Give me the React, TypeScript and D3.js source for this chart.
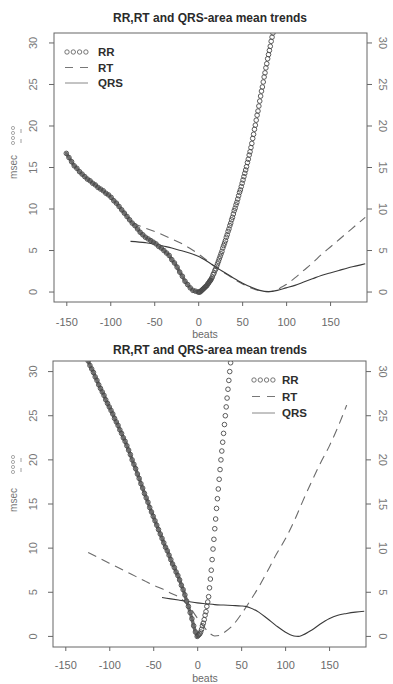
import { useEffect, useRef } from 'react'
import * as d3 from 'd3'

const chartTitle = 'RR,RT and QRS-area mean trends'
const beatTicks = [-150, -100, -50, 0, 50, 100, 150]
const msecTicks = [0, 5, 10, 15, 20, 25, 30]
const legendNames = ['RR', 'RT', 'QRS']
const xDomain: [number, number] = [-164, 192]
const yDomain: [number, number] = [-1.2, 31.2]

// upper panel
const topRRBeats = [...d3.range(-150, 0, 3), ...d3.range(0, 87)]
const topRRValues = [
  16.7, 16.2, 15.7, 15.2, 14.9, 14.5, 14.2, 13.9, 13.6, 13.4,
  13.1, 12.9, 12.6, 12.4, 12.2, 11.9, 11.7, 11.4, 11.0, 10.7,
  10.3, 9.9, 9.5, 9.1, 8.7, 8.3, 8.0, 7.6, 7.2, 6.9,
  6.6, 6.4, 6.2, 6.0, 5.8, 5.5, 5.3, 5.0, 4.7, 4.4,
  3.9, 3.5, 3.0, 2.4, 1.9, 1.3, 0.9, 0.5, 0.2, 0.1,
  0,
  0.0, 0.0, 0.1, 0.2, 0.3, 0.4, 0.5, 0.6, 0.7, 0.8,
  1.0, 1.1, 1.3, 1.4, 1.6, 1.8, 2.1, 2.3, 2.6, 2.8,
  3.1, 3.4, 3.7, 4.0, 4.3, 4.6, 4.9, 5.3, 5.6, 5.9,
  6.2, 6.6, 6.9, 7.3, 7.6, 8.0, 8.3, 8.7, 9.0, 9.4,
  9.8, 10.1, 10.5, 10.8, 11.2, 11.6, 12.0, 12.3, 12.7, 13.1,
  13.5, 13.9, 14.3, 14.7, 15.1, 15.6, 16.0, 16.5, 16.9, 17.4,
  17.9, 18.5, 19.0, 19.6, 20.1, 20.7, 21.3, 21.8, 22.4, 23.0,
  23.6, 24.2, 24.7, 25.3, 25.9, 26.4, 27.0, 27.5, 28.1, 28.6,
  29.1, 29.6, 30.2, 30.7, 31.2, 31.7
]
const topRTBeats = [-75, -60, -45, -30, -20, -10, 0, 10, 20, 30, 40, 50, 60, 70, 80, 90, 95, 100, 110, 120, 130, 140, 150, 160, 170, 180, 190]
const topRTValues = [8.3, 7.7, 7.1, 6.4, 5.9, 5.3, 4.6, 3.8, 3.0, 2.3, 1.6, 1.0, 0.5, 0.15, 0.05, 0.3, 0.6, 0.9, 1.7, 2.6, 3.5, 4.5, 5.4, 6.3, 7.2, 8.1, 9.0]
const topQRSBeats = [-77, -60, -50, -40, -30, -20, -10, 0, 10, 20, 30, 40, 50, 60, 70, 80, 90, 100, 110, 120, 130, 140, 150, 160, 170, 180, 190]
const topQRSValues = [6.1, 5.95, 5.8, 5.55, 5.3, 5.0, 4.7, 4.3, 3.7, 3.0, 2.35, 1.7, 1.1, 0.6, 0.2, 0.05, 0.2, 0.5, 0.8, 1.2, 1.6, 2.0, 2.3, 2.6, 2.9, 3.15, 3.4]

// lower panel
const bottomRRBeats = [...d3.range(-126, 0, 2), ...d3.range(0, 40)]
const bottomRRValues = [
  31.6, 31.2, 30.7, 30.3, 29.9, 29.4, 29.0, 28.5, 28.1, 27.7,
  27.3, 26.8, 26.4, 26.0, 25.6, 25.2, 24.7, 24.3, 23.9, 23.4,
  23.0, 22.5, 22.1, 21.6, 21.1, 20.6, 20.0, 19.5, 19.0, 18.4,
  17.9, 17.3, 16.8, 16.2, 15.7, 15.2, 14.6, 14.1, 13.6, 13.1,
  12.6, 12.1, 11.6, 11.1, 10.6, 10.1, 9.7, 9.2, 8.7, 8.2,
  7.8, 7.3, 6.9, 6.4, 5.8, 5.3, 4.7, 4.0, 3.4, 2.7,
  2.0, 1.2, 0.5,
  0, 0.1, 0.2, 0.3, 0.5, 0.8, 1.2, 1.5, 1.9, 2.4,
  2.8, 3.4, 3.9, 4.5, 5.5, 6.5, 7.5, 8.7, 9.9, 11.0,
  12.2, 13.3, 14.5, 15.6, 16.7, 17.8, 18.9, 20.0, 21.0, 22.0,
  23.0, 24.0, 25.0, 26.0, 27.0, 28.0, 29.0, 30.0, 31.0, 32.0
]
const bottomRTBeats = [-124, -110, -100, -90, -80, -70, -60, -50, -40, -30, -20, -10, 0, 10, 15, 20, 25, 30, 40, 50, 60, 70, 80, 90, 100, 110, 120, 130, 140, 150, 160, 170]
const bottomRTValues = [9.5, 8.8, 8.3, 7.8, 7.3, 6.8, 6.3, 5.8, 5.4, 4.9, 4.4, 3.5, 2.1, 0.8, 0.3, 0.05, 0.1, 0.4, 1.2, 2.5, 4.0, 5.6, 7.4, 9.3, 11.0, 13.0, 15.3, 17.5, 19.6, 21.5, 23.7, 26.2]
const bottomQRSBeats = [-40, -30, -20, -10, 0, 10, 20, 30, 40, 50, 55, 60, 70, 80, 90, 100, 110, 115, 120, 130, 140, 150, 160, 170, 180, 190]
const bottomQRSValues = [4.4, 4.25, 4.1, 3.95, 3.8, 3.7, 3.6, 3.55, 3.5, 3.45, 3.4, 3.25, 2.75, 2.0, 1.2, 0.5, 0.05, 0.0, 0.15, 0.7, 1.4, 2.0, 2.4, 2.6, 2.75, 2.85]

const font = '"Liberation Sans", Arial, sans-serif'

interface Panel {
  l: number; r: number; t: number; b: number
  titleY: number; tickPad: number; xlabOffset: number
  legendX: number; legendTextX: number; legendY: number; legendStep: number
  ylabY: number; ylabSymY: number
  denseUpTo: number
  rr: [number[], number[]]
  rt: [number[], number[]]
  qrs: [number[], number[]]
}

function drawPanel(svg: d3.Selection<SVGSVGElement, unknown, null, undefined>, p: Panel, idx: number) {
  const x = d3.scaleLinear().domain(xDomain).range([p.l, p.r])
  const y = d3.scaleLinear().domain(yDomain).range([p.b, p.t])
  const g = svg.append('g')

  const clipId = `clip-${idx}`
  svg.append('clipPath').attr('id', clipId)
    .append('rect').attr('x', p.l).attr('y', p.t).attr('width', p.r - p.l).attr('height', p.b - p.t)

  g.append('text')
    .attr('x', 210).attr('y', p.titleY)
    .attr('text-anchor', 'middle')
    .attr('font-family', font).attr('font-size', 12).attr('font-weight', 'bold')
    .attr('fill', '#2a2a2a')
    .text(chartTitle)

  const plot = g.append('g').attr('clip-path', `url(#${clipId})`)
  const line = d3.line<[number, number]>()
    .x(d => x(d[0])).y(d => y(d[1]))
    .curve(d3.curveMonotoneX)

  plot.append('path')
    .datum(d3.zip(p.rt[0], p.rt[1]) as [number, number][])
    .attr('d', line).attr('fill', 'none')
    .attr('stroke', '#6a6a6a').attr('stroke-width', 1.1)
    .attr('stroke-dasharray', '9,6')

  plot.append('path')
    .datum(d3.zip(p.qrs[0], p.qrs[1]) as [number, number][])
    .attr('d', line).attr('fill', 'none')
    .attr('stroke', '#3a3a3a').attr('stroke-width', 1.1)

  // where RR points are packed tightly they print as one thick band
  const rrPts = d3.zip(p.rr[0], p.rr[1]) as [number, number][]
  plot.append('path')
    .datum(rrPts.filter(d => d[0] <= p.denseUpTo))
    .attr('d', d3.line<[number, number]>().x(d => x(d[0])).y(d => y(d[1])).curve(d3.curveCatmullRom))
    .attr('fill', 'none')
    .attr('stroke', '#6e6e6e').attr('stroke-width', 3.4)
    .attr('stroke-linecap', 'round')

  plot.selectAll('circle.rr')
    .data(rrPts)
    .enter().append('circle')
    .attr('class', 'rr')
    .attr('cx', d => x(d[0])).attr('cy', d => y(d[1]))
    .attr('r', 2.3)
    .attr('fill', 'none').attr('stroke', '#4a4a4a').attr('stroke-width', 0.9)

  g.append('rect')
    .attr('x', p.l).attr('y', p.t).attr('width', p.r - p.l).attr('height', p.b - p.t)
    .attr('fill', 'none').attr('stroke', '#666').attr('stroke-width', 1)

  // x axis
  g.append('g')
    .attr('transform', `translate(0,${p.b})`)
    .call(d3.axisBottom(x).tickValues(beatTicks).tickSize(4).tickPadding(p.tickPad).tickFormat(d => String(d)))
    .call(a => a.select('.domain').remove())
    .call(a => a.selectAll('line').attr('stroke', '#666'))
    .call(a => a.selectAll('text').attr('font-family', font).attr('font-size', 11).attr('fill', '#6a6a6a'))

  g.append('text')
    .attr('x', 205).attr('y', p.b + p.xlabOffset)
    .attr('text-anchor', 'middle')
    .attr('font-family', font).attr('font-size', 10.5).attr('fill', '#6a6a6a')
    .text('beats')

  // y axes, both sides
  g.selectAll('line.ytl').data(msecTicks).enter().append('line')
    .attr('x1', p.l - 5).attr('x2', p.l).attr('y1', d => y(d)).attr('y2', d => y(d))
    .attr('stroke', '#666')
  g.selectAll('line.ytr').data(msecTicks).enter().append('line')
    .attr('x1', p.r).attr('x2', p.r + 5).attr('y1', d => y(d)).attr('y2', d => y(d))
    .attr('stroke', '#666')
  g.selectAll('text.yl').data(msecTicks).enter().append('text')
    .attr('transform', d => `translate(33,${y(d)}) rotate(-90)`)
    .attr('text-anchor', 'middle').attr('dy', '0.35em')
    .attr('font-family', font).attr('font-size', 11).attr('fill', '#777')
    .text(d => String(d))
  g.selectAll('text.yr').data(msecTicks).enter().append('text')
    .attr('transform', d => `translate(383,${y(d)}) rotate(90)`)
    .attr('text-anchor', 'middle').attr('dy', '0.35em')
    .attr('font-family', font).attr('font-size', 11).attr('fill', '#777')
    .text(d => String(d))

  // y label with its little key marks
  g.append('text')
    .attr('transform', `translate(13,${p.ylabY}) rotate(-90)`)
    .attr('text-anchor', 'middle').attr('dy', '0.35em')
    .attr('font-family', font).attr('font-size', 10).attr('fill', '#777')
    .text('msec')
  g.selectAll('circle.ylab').data([0, 1, 2, 3]).enter().append('circle')
    .attr('cx', 13).attr('cy', i => p.ylabSymY + i * 5).attr('r', 1.6)
    .attr('fill', 'none').attr('stroke', '#888').attr('stroke-width', 0.7)
  g.selectAll('line.ylab').data([0, 1]).enter().append('line')
    .attr('x1', 21).attr('x2', 21)
    .attr('y1', i => p.ylabSymY + 1 + i * 10).attr('y2', i => p.ylabSymY + 5 + i * 10)
    .attr('stroke', '#888').attr('stroke-width', 0.8)

  // legend
  const lg = g.append('g')
  legendNames.forEach((name, i) => {
    const ly = p.legendY + i * p.legendStep
    if (name === 'RR') {
      d3.range(4).forEach(k => {
        lg.append('circle')
          .attr('cx', p.legendX + 2 + k * 6.3).attr('cy', ly).attr('r', 2.2)
          .attr('fill', 'none').attr('stroke', '#555').attr('stroke-width', 0.8)
      })
    } else if (name === 'RT') {
      lg.append('line')
        .attr('x1', p.legendX).attr('x2', p.legendX + 23).attr('y1', ly).attr('y2', ly)
        .attr('stroke', '#777').attr('stroke-width', 1).attr('stroke-dasharray', '8,7')
    } else {
      lg.append('line')
        .attr('x1', p.legendX).attr('x2', p.legendX + 23).attr('y1', ly).attr('y2', ly)
        .attr('stroke', '#888').attr('stroke-width', 1)
    }
    lg.append('text')
      .attr('x', p.legendTextX).attr('y', ly).attr('dy', '0.36em')
      .attr('font-family', font).attr('font-size', 11.5).attr('font-weight', 'bold')
      .attr('fill', '#2e2e2e')
      .text(name)
  })
}

export default function App() {
  const svgRef = useRef<SVGSVGElement>(null)

  useEffect(() => {
    if (!svgRef.current) return
    const svg = d3.select(svgRef.current)
    svg.selectAll('*').remove()

    const panels: Panel[] = [
      {
        l: 54, r: 367, t: 33, b: 302, titleY: 22, tickPad: 12, xlabOffset: 36,
        legendX: 65, legendTextX: 98, legendY: 52, legendStep: 15.5,
        ylabY: 167, ylabSymY: 128, denseUpTo: 15,
        rr: [topRRBeats, topRRValues], rt: [topRTBeats, topRTValues], qrs: [topQRSBeats, topQRSValues]
      },
      {
        l: 53, r: 366, t: 361, b: 647, titleY: 354, tickPad: 10, xlabOffset: 34.5,
        legendX: 252, legendTextX: 282, legendY: 380, legendStep: 16.5,
        ylabY: 500, ylabSymY: 457, denseUpTo: 0,
        rr: [bottomRRBeats, bottomRRValues], rt: [bottomRTBeats, bottomRTValues], qrs: [bottomQRSBeats, bottomQRSValues]
      }
    ]
    panels.forEach((p, i) => drawPanel(svg, p, i))
  }, [])

  return (
    <div style={{ position: 'absolute', left: 0, top: 0 }}>
      <svg ref={svgRef} width={393} height={684} style={{ display: 'block', background: '#fff' }} />
    </div>
  )
}
